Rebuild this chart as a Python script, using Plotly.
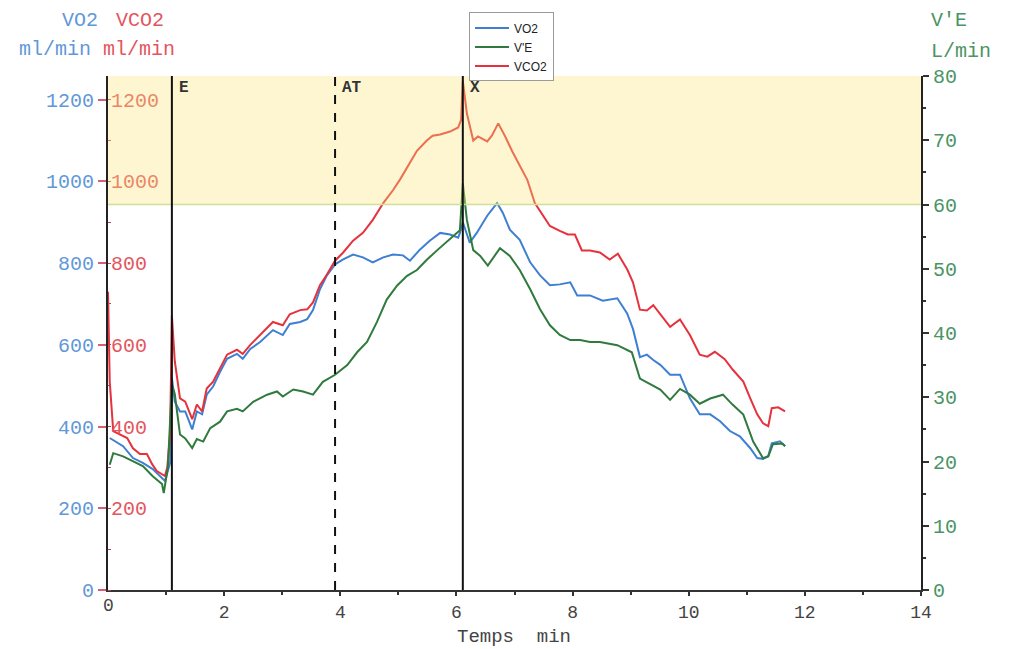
import plotly.graph_objects as go

# ---- data (time in minutes) ----
vco2_t = [0.00, 0.03, 0.09, 0.21, 0.33, 0.43, 0.55, 0.67, 0.76, 0.84, 0.93, 0.98, 1.02, 1.07,
          1.10, 1.15, 1.24, 1.33, 1.45, 1.53, 1.62, 1.70, 1.81, 1.93, 2.05, 2.22, 2.32, 2.45,
          2.62, 2.84, 3.01, 3.13, 3.31, 3.43, 3.53, 3.65, 3.77, 3.91, 4.05, 4.22, 4.39, 4.56,
          4.74, 4.91, 5.03, 5.20, 5.32, 5.49, 5.59, 5.72, 5.89, 6.03, 6.08, 6.11, 6.18, 6.29,
          6.37, 6.53, 6.61, 6.72, 6.84, 6.96, 7.09, 7.22, 7.35, 7.49, 7.61, 7.78, 7.92, 8.04,
          8.16, 8.30, 8.47, 8.64, 8.78, 8.94, 9.04, 9.16, 9.28, 9.39, 9.54, 9.68, 9.85, 10.02,
          10.19, 10.32, 10.45, 10.62, 10.76, 10.94, 11.06, 11.18, 11.28, 11.37, 11.43, 11.54, 11.66]
vco2 = [730, 510, 389, 381, 372, 347, 333, 333, 308, 291, 284, 279, 299, 381,
        672, 560, 469, 461, 418, 454, 437, 493, 510, 542, 576, 588, 578, 600,
        624, 656, 648, 675, 685, 687, 704, 746, 772, 806, 826, 855, 874, 906,
        947, 979, 1005, 1045, 1075, 1100, 1112, 1115, 1122, 1132, 1150, 1246, 1166, 1100,
        1110, 1098, 1112, 1142, 1110, 1074, 1037, 1004, 947, 916, 891, 879, 870, 870,
        831, 831, 826, 809, 823, 785, 753, 686, 684, 697, 668, 644, 662, 624,
        576, 571, 583, 565, 539, 510, 469, 430, 408, 401, 445, 447, 437]

vo2_t = [0.03, 0.12, 0.26, 0.43, 0.60, 0.77, 0.93, 0.98, 1.07, 1.10, 1.15, 1.24, 1.33, 1.45,
         1.53, 1.62, 1.70, 1.81, 1.93, 2.05, 2.22, 2.32, 2.45, 2.62, 2.84, 3.01, 3.13, 3.31,
         3.43, 3.53, 3.65, 3.77, 3.91, 4.05, 4.22, 4.39, 4.56, 4.74, 4.91, 5.08, 5.20, 5.37,
         5.54, 5.72, 5.89, 6.03, 6.06, 6.11, 6.23, 6.35, 6.53, 6.70, 6.80, 6.92, 7.09, 7.27,
         7.44, 7.61, 7.78, 7.96, 8.08, 8.30, 8.52, 8.77, 8.94, 9.04, 9.16, 9.28, 9.39, 9.51,
         9.68, 9.85, 10.02, 10.19, 10.37, 10.54, 10.71, 10.88, 11.06, 11.18, 11.28, 11.37,
         11.43, 11.57, 11.66]
vo2 = [372, 364, 352, 323, 311, 296, 274, 267, 311, 520, 461, 437, 437, 393,
       437, 430, 478, 498, 534, 566, 578, 566, 590, 607, 636, 624, 651, 656,
       663, 685, 736, 770, 797, 809, 821, 814, 802, 814, 821, 819, 806, 833,
       855, 874, 870, 862, 874, 900, 850, 874, 916, 947, 923, 882, 857, 802,
       770, 746, 748, 753, 721, 721, 708, 714, 677, 639, 570, 576, 563, 551,
       527, 527, 469, 430, 430, 413, 389, 376, 347, 323, 321, 328,
       359, 364, 352]

ve_t = [0.03, 0.09, 0.26, 0.43, 0.60, 0.77, 0.93, 0.96, 1.03, 1.10, 1.15, 1.24, 1.33, 1.45,
        1.53, 1.64, 1.76, 1.93, 2.05, 2.22, 2.32, 2.50, 2.74, 2.91, 3.01, 3.19, 3.36, 3.53,
        3.70, 3.91, 4.12, 4.29, 4.46, 4.63, 4.80, 4.98, 5.15, 5.32, 5.49, 5.67, 5.84, 6.01,
        6.06, 6.11, 6.18, 6.29, 6.41, 6.54, 6.75, 6.92, 7.09, 7.27, 7.44, 7.61, 7.78, 7.96,
        8.13, 8.30, 8.47, 8.77, 9.02, 9.16, 9.33, 9.51, 9.68, 9.85, 10.02, 10.19, 10.37,
        10.59, 10.75, 10.94, 11.11, 11.28, 11.37, 11.45, 11.61, 11.66]
ve = [19.5, 21.3, 20.8, 20.1, 19.3, 17.7, 16.5, 15.1, 19.0, 32.0, 30.5, 24.2, 23.6, 22.1,
      23.5, 23.1, 25.2, 26.2, 27.8, 28.2, 27.8, 29.3, 30.4, 30.9, 30.1, 31.2, 30.9, 30.4,
      32.4, 33.5, 35.0, 37.0, 38.6, 41.7, 45.2, 47.4, 48.9, 49.8, 51.4, 52.9, 54.3, 55.6,
      56.0, 63.3, 57.6, 52.9, 52.0, 50.5, 53.2, 52.0, 49.8, 46.8, 43.7, 41.2, 39.7, 38.9,
      38.9, 38.6, 38.6, 38.1, 37.0, 32.9, 32.1, 31.2, 29.6, 31.3, 30.4, 29.0, 29.8,
      30.4, 28.9, 27.3, 23.1, 20.5, 20.8, 22.7, 22.8, 22.4]

# event markers: (time, label, dashed)
marker_t = [1.10, 3.91, 6.11]
marker_lbl = ["E", "AT", "X"]
marker_dash = ["solid", "dash", "solid"]

left_ticks = [0, 200, 400, 600, 800, 1000, 1200]
right_ticks = [0, 10, 20, 30, 40, 50, 60, 70, 80]
x_ticks = [0, 2, 4, 6, 8, 10, 12, 14]

# ---- styling ----
W, H = 1016, 649
ML, MR, MT, MB = 108, 95, 72, 59
PW, PH = W - ML - MR, H - MT - MB
MONO = "Liberation Mono"
BLUE, RED, GREEN = "#3f7fd2", "#e6323c", "#2f7a3c"
BLUE_TXT, RED_TXT, GREEN_TXT = "#5f98d8", "#e35660", "#4a9465"
AXIS_TXT = "#444"


def px_x(px):
    return (px - ML) / PW


def px_y(py):
    return (H - MB - py) / PH


fig = go.Figure()
fig.add_trace(go.Scatter(x=vo2_t, y=vo2, name="VO2", mode="lines",
                         line=dict(color=BLUE, width=2), yaxis="y"))
fig.add_trace(go.Scatter(x=ve_t, y=ve, name="V'E", mode="lines",
                         line=dict(color=GREEN, width=2), yaxis="y3"))
fig.add_trace(go.Scatter(x=vco2_t, y=vco2, name="VCO2", mode="lines",
                         line=dict(color=RED, width=2), yaxis="y2"))

# pale yellow band over the 60-80 L/min zone (tints the curves beneath it)
shapes = [
    dict(type="rect", xref="x", yref="y3", x0=0, x1=14, y0=60, y1=80,
         fillcolor="rgba(249,230,120,0.34)", line=dict(width=0), layer="above"),
    dict(type="line", xref="x", yref="y3", x0=0, x1=14, y0=60, y1=60,
         line=dict(color="#cfe09a", width=1.5), layer="above"),
]
annotations = []
for t, lbl, dash in zip(marker_t, marker_lbl, marker_dash):
    shapes.append(dict(type="line", xref="x", yref="paper", x0=t, x1=t, y0=0, y1=1,
                       line=dict(color="#111", width=2, dash=dash), layer="above"))
    annotations.append(dict(x=t, y=px_y(84), xref="x", yref="paper", text="<b>%s</b>" % lbl,
                            showarrow=False, xanchor="left", yanchor="middle", xshift=5,
                            font=dict(family=MONO, size=16, color="#333")))

# axis titles
for txt, x, y, col in [("VO2", 60, 16, BLUE_TXT), ("VCO2", 114, 16, RED_TXT),
                       ("ml/min", 17, 45, BLUE_TXT), ("ml/min", 101, 45, RED_TXT),
                       ("V'E", 929, 16, GREEN_TXT), ("L/min", 929, 47, GREEN_TXT)]:
    annotations.append(dict(x=px_x(x), y=px_y(y), xref="paper", yref="paper", text=txt,
                            showarrow=False, xanchor="left", yanchor="middle",
                            font=dict(family=MONO, size=20, color=col)))
annotations.append(dict(x=px_x(514), y=px_y(637), xref="paper", yref="paper",
                        text="Temps\u00a0\u00a0min", showarrow=False,
                        xanchor="center", yanchor="middle",
                        font=dict(family=MONO, size=19, color=AXIS_TXT)))
# the first x tick label sits in the corner shared with the inside VCO2 labels
annotations.append(dict(x=x_ticks[0], y=px_y(606), xref="x", yref="paper",
                        text=str(x_ticks[0]), showarrow=False,
                        xanchor="center", yanchor="middle",
                        font=dict(family=MONO, size=18, color=AXIS_TXT)))

yr = [0, 1258]
fig.update_layout(
    width=W, height=H,
    margin=dict(l=ML, r=MR, t=MT, b=MB, pad=0),
    paper_bgcolor="white", plot_bgcolor="white",
    showlegend=True,
    legend=dict(x=px_x(469), y=px_y(8), xanchor="left", yanchor="top",
                bgcolor="white", bordercolor="#9a9a9a", borderwidth=1,
                font=dict(family="Liberation Sans", size=12, color="#222"),
                itemwidth=34, tracegroupgap=0),
    xaxis=dict(range=[0, 14], tickvals=x_ticks, showgrid=False, zeroline=False,
               showline=True, linecolor="#333", linewidth=2,
               ticks="outside", ticklen=4, tickcolor="#333", tickwidth=2,
               minor=dict(dtick=1, ticks="outside", ticklen=3, tickcolor="#333"),
               tickfont=dict(family=MONO, size=18, color=AXIS_TXT)),
    yaxis=dict(range=yr, tickvals=left_ticks, showgrid=False, zeroline=False,
               showline=True, linecolor="#222", linewidth=2,
               ticks="outside", ticklen=8, tickcolor="#d66070", tickwidth=1.5,
               tickfont=dict(family=MONO, size=20, color=BLUE_TXT)),
    yaxis2=dict(range=yr, tickvals=left_ticks[1:], overlaying="y", side="left",
                showgrid=False, zeroline=False, showline=False,
                ticks="", ticklabelposition="inside",
                minor=dict(dtick=100, ticks="inside", ticklen=3, tickcolor="#c04060"),
                tickfont=dict(family=MONO, size=20, color=RED_TXT)),
    yaxis3=dict(range=[0, 80], tickvals=right_ticks, overlaying="y", side="right",
                showgrid=False, zeroline=False,
                showline=True, linecolor="#222", linewidth=2,
                ticks="outside", ticklen=6, tickcolor="#333", tickwidth=1.5,
                minor=dict(dtick=5, ticks="outside", ticklen=3, tickcolor="#333"),
                tickfont=dict(family=MONO, size=20, color=GREEN_TXT)),
    shapes=shapes,
    annotations=annotations,
)

fig.write_html("out.html")
